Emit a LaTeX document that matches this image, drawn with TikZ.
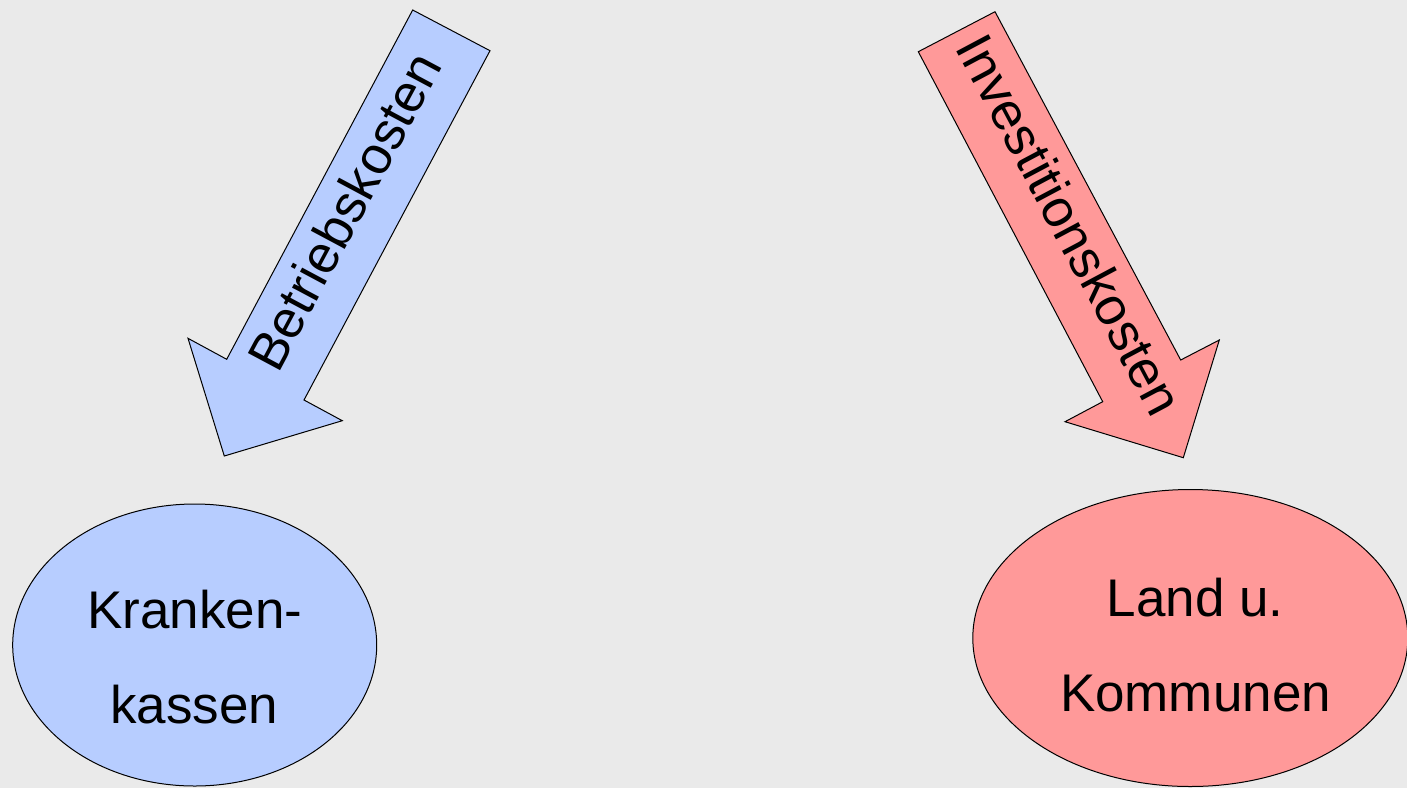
\documentclass[tikz,border=0pt]{standalone}
\usepackage{fontspec}
\setmainfont{Liberation Sans}
\usetikzlibrary{shapes.geometric}
\definecolor{bg}{RGB}{234,234,234}
\definecolor{lblue}{RGB}{183,205,255}
\definecolor{lpink}{RGB}{255,153,153}
\begin{document}
\begin{tikzpicture}[x=1pt,y=-1pt,
  blockarrow/.style={draw=black,line width=1pt,line join=miter},
  oval/.style={ellipse,draw=black,line width=1pt,inner sep=0pt},
  lbl/.style={font=\fontsize{53}{63}\selectfont,inner sep=0pt,text=black}]
\fill[bg] (0,0) rectangle (1407,788);
\useasboundingbox (0,0) rectangle (1407,788);
% left block arrow
\draw[blockarrow,fill=lblue] (412.7,10) -- (490,50.7) -- (304,400) -- (342.3,420.7)
  -- (224.3,456) -- (188,338.3) -- (226.7,359.3) -- cycle;
\node[lbl,anchor=base,rotate=61.9] (betr) at (360.7,220) {Betriebskosten};
% right block arrow
\draw[blockarrow,fill=lpink] (995,11.7) -- (918.3,51.7) -- (1102.7,401.7) -- (1065,421.7)
  -- (1183.3,457.7) -- (1219.3,340) -- (1180.7,360) -- cycle;
\node[lbl,anchor=base,rotate=-62] (inv) at (1053.5,233.5) {Investitionskosten};
% ellipses
\node[oval,fill=lblue,minimum width=364pt,minimum height=282pt] (kk) at (194.7,645) {};
\node[lbl,anchor=base] (kk1) at (195,628) {Kranken-};
\node[lbl,anchor=base] (kk2) at (194,723) {kassen};
\node[oval,fill=lpink,minimum width=435pt,minimum height=297pt] (lk) at (1190.3,638) {};
\node[lbl,anchor=base] (lk1) at (1195,616) {Land u.};
\node[lbl,anchor=base] (lk2) at (1195.5,711.7) {Kommunen};
\end{tikzpicture}
\end{document}
